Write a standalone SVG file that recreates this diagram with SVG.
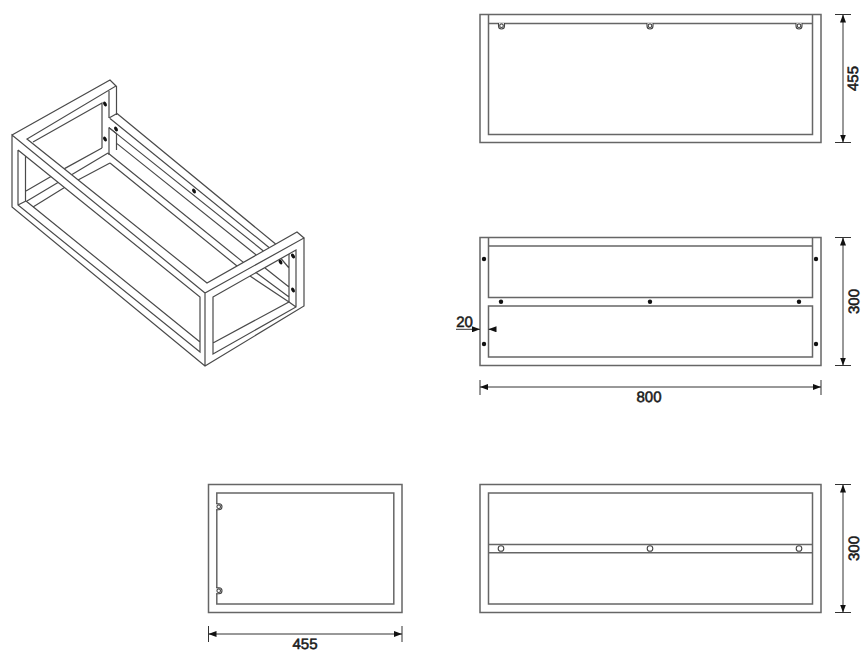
<svg xmlns="http://www.w3.org/2000/svg" width="866" height="655" viewBox="0 0 866 655">
<style>
.l{fill:none;stroke:#4a4a4a;stroke-width:1.2}
.o{fill:none;stroke:#666;stroke-width:1.5}
.d{fill:none;stroke:#333;stroke-width:1}
.a{fill:#111;stroke:none}
.k{fill:#fff;stroke:#444;stroke-width:1.1}
.p{fill:#111}
text{font-family:"Liberation Sans",Arial,sans-serif;font-size:15px;font-weight:400;stroke:#1a1a1a;stroke-width:.55px;fill:#1a1a1a;text-anchor:middle;text-rendering:geometricPrecision}
</style>
<defs>
<marker id="ah" viewBox="0 0 8 6" refX="8" refY="3" markerWidth="8" markerHeight="6" markerUnits="userSpaceOnUse" orient="auto-start-reverse"><path d="M0 0L8 3L0 6Z" class="a"/></marker>
<g id="key"><path d="M-3 -3.500V-0.500A3 3 0 0 0 3 -0.500V-3.500" class="k"/><circle r="1.800" cx="0" cy="-0.800" class="k"/></g>
</defs>
<g id="iso" class="l">
<path d="M12 135L110 80L116 86L27 139L207 283L297 232L304 238L205 293L12 135V207L205 366L304 306V238M33 142L102 103V148M205 293V366"/>
<path d="M18 150L200 297V352L18 205V150M25.500 156V201.500M18 205L26 201L200 342M213 297L296 250V307L213 354ZM213 343L289 302L296 307"/>
<path d="M26 191L51 176.500M64.500 168.600L102 148M27 201L58 182.600M72 174.600L108 153M33 207L64.500 187.600M78 180L110 163"/>
<path d="M109 91V118M109 127.600V155M116.500 86V115M116.500 134V150"/>
<path d="M109 118L117 113.500M109 127.600L117 134"/>
<path d="M117 113.500L275.600 244M110 118.500L269.300 247.700M109 127.600L263.400 251M117 143.600L256.300 255M108 153L243.400 262.400M110 163L237 266"/>
<path d="M250 276L289 302M256 272.500L289 297M265 268L289 287M289 254V302M281 258.500L289 268"/>
</g>
<g id="iso-holes" class="p">
<ellipse cx="105" cy="104" rx="1.700" ry="2.600" transform="rotate(-30 105 104)"/>
<ellipse cx="105" cy="139" rx="1.700" ry="2.600" transform="rotate(-30 105 139)"/>
<ellipse cx="116" cy="129" rx="1.700" ry="2.600" transform="rotate(-30 116 129)"/>
<ellipse cx="194" cy="191" rx="1.700" ry="2.600" transform="rotate(-30 194 191)"/>
<ellipse cx="280.500" cy="262" rx="1.700" ry="2.600" transform="rotate(-30 280.500 262)"/>
<ellipse cx="293" cy="256" rx="1.700" ry="2.600" transform="rotate(-30 293 256)"/>
<ellipse cx="293" cy="290" rx="1.700" ry="2.600" transform="rotate(-30 293 290)"/>
</g>
<g id="view-top">
<rect x="480" y="14.500" width="341" height="128" class="o"/>
<path d="M488.500 14.500V134.500H812.500V14.500M488.500 23.500H812.500" class="o"/>
<use href="#key" x="501.500" y="26.500"/><use href="#key" x="650" y="26.500"/><use href="#key" x="799" y="26.500"/>
</g>
<g id="view-front">
<rect x="480" y="237.500" width="341" height="128" class="o"/>
<path d="M488.500 237.500V297.500H812.500V237.500M488.500 246H812.500" class="o"/>
<rect x="488.500" y="306" width="324" height="51" class="o"/>
<g class="p"><circle cx="484" cy="259" r="2.200"/><circle cx="484" cy="344" r="2.200"/><circle cx="816" cy="259" r="2.200"/><circle cx="816" cy="344" r="2.200"/><circle cx="501" cy="301.700" r="2.200"/><circle cx="650" cy="301.700" r="2.200"/><circle cx="799" cy="301.700" r="2.200"/></g>
</g>
<g id="view-back">
<rect x="480" y="484.500" width="341" height="128" class="o"/>
<rect x="488.500" y="493" width="324" height="111" class="o"/>
<path d="M488.500 544.500H812.500M488.500 552.700H812.500" class="o"/>
<circle cx="501" cy="548.500" r="2.800" class="k"/><circle cx="650" cy="548.500" r="2.800" class="k"/><circle cx="799" cy="548.500" r="2.800" class="k"/>
</g>
<g id="view-side">
<rect x="208.500" y="484.500" width="193.500" height="128" class="o"/>
<rect x="216.800" y="493" width="177" height="111" class="o"/>
<use href="#key" transform="translate(219.500 506.700) rotate(-90)"/><use href="#key" transform="translate(219.500 590.700) rotate(-90)"/>
</g>
<g id="connectors" class="d">
<path d="M835 14.500H851M835 142.500H851M835 237.500H851M835 365.500H851M835 484.500H851M835 612.500H851M480 380V395M821 380V395M208.500 626V642M402 626V642"/>
<path d="M843 14.500V142.500" marker-start="url(#ah)" marker-end="url(#ah)"/>
<path d="M843 237.500V365.500" marker-start="url(#ah)" marker-end="url(#ah)"/>
<path d="M843 484.500V612.500" marker-start="url(#ah)" marker-end="url(#ah)"/>
<path d="M480 387H821" marker-start="url(#ah)" marker-end="url(#ah)"/>
<path d="M208.500 634H402" marker-start="url(#ah)" marker-end="url(#ah)"/>
<path d="M456 329.300H480" marker-end="url(#ah)"/>
<path d="M496 329.300H488.500" marker-end="url(#ah)"/>
</g>
<g id="labels">
<text transform="translate(858 78.500) rotate(-90)">455</text>
<text transform="translate(858.500 301.500) rotate(-90)">300</text>
<text transform="translate(858.500 548.500) rotate(-90)">300</text>
<text x="649" y="402">800</text>
<text x="305" y="648.500">455</text>
<text x="464.500" y="326.500">20</text>
</g>
</svg>
